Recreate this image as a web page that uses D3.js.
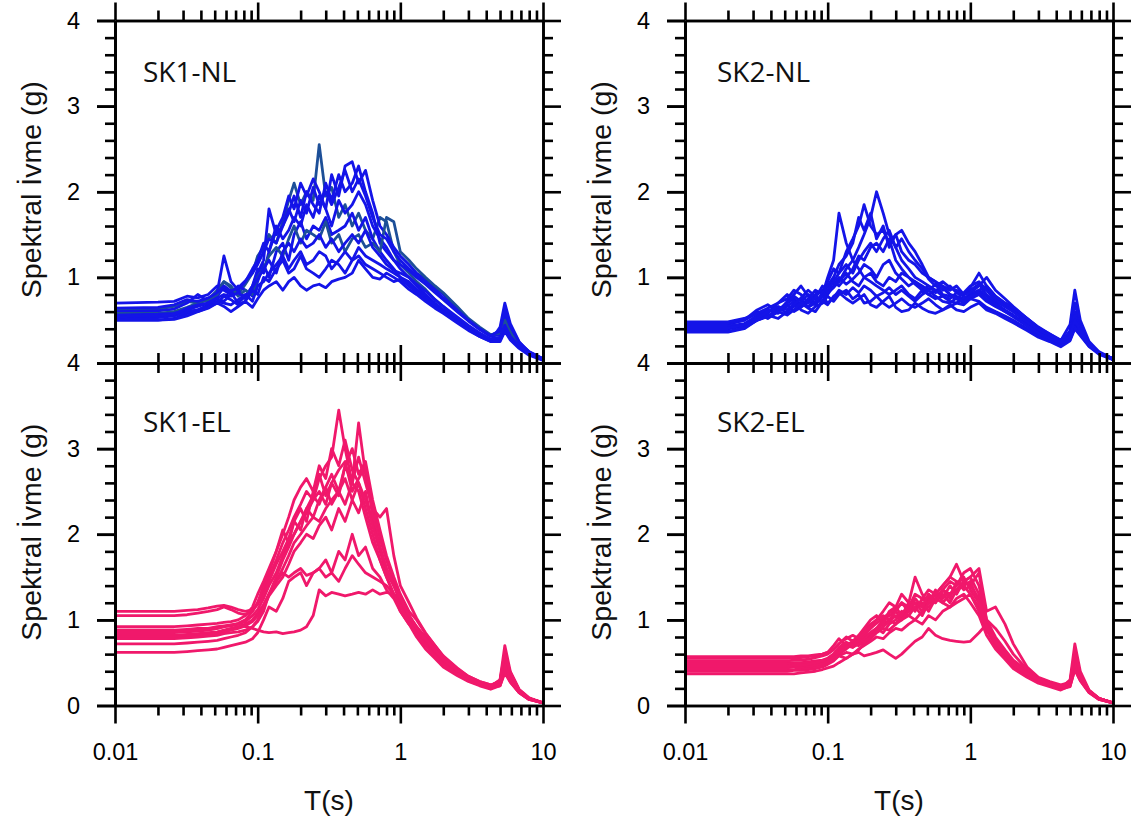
<!DOCTYPE html>
<html>
<head>
<meta charset="utf-8">
<script src="https://cdn.jsdelivr.net/npm/d3@7"></script>
<style>
  body { margin: 0; background: #fff; }
  svg { display: block; }
  .tick text { font-family: "Liberation Sans", Arial, sans-serif; fill: #000; }
  .axis path, .axis line { stroke: #000; stroke-width: 2.6; stroke-linecap: butt; }
</style>
</head>
<body>
<svg id="chart" width="1132" height="823"></svg>
<script>

/*
 * DATA  (periods T in s, spectral acceleration in g)
 */

var periods = [0.01, 0.02, 0.026, 0.032, 0.038, 0.045, 0.052, 0.058, 0.065, 0.073,
  0.082, 0.092, 0.1, 0.11, 0.12, 0.135, 0.15, 0.165, 0.18, 0.2,
  0.22, 0.245, 0.27, 0.3, 0.33, 0.37, 0.41, 0.46, 0.51, 0.57,
  0.64, 0.72, 0.8, 0.9, 1.0, 1.15, 1.3, 1.5, 1.75, 2.0,
  2.5, 3.0, 3.6, 4.3, 5.0, 5.4, 5.9, 6.8, 8.0, 10];

var sk1NL = [
  [0.62,0.63,0.66,0.72,0.70,0.74,0.85,0.95,0.88,0.80, 0.92,1.05,1.25,1.35,1.5,1.4,1.65,1.9,2.1,1.85, 2.0,1.9,2.55,1.95,2.05,1.7,1.85,1.6,1.75,1.55, 1.45,1.7,1.65,1.3,1.15, 1.05,0.95,0.86,0.74,0.66,0.52,0.42,0.34,0.27,0.3,0.45,0.32,0.2,0.11,0.04],
  [0.7,0.71,0.72,0.78,0.76,0.8,0.9,0.85,0.8,0.85, 0.95,1.1,1.2,1.4,1.3,1.55,1.7,1.95,1.8,2.1, 1.95,2.15,2.0,1.8,2.2,1.95,2.3,2.35,2.1,2.25, 1.9,1.6,1.5,1.35,1.25, 1.15,1.05,0.98,0.88,0.8,0.64,0.5,0.4,0.32,0.38,0.58,0.42,0.24,0.13,0.05],
  [0.55,0.56,0.58,0.62,0.66,0.7,0.82,1.25,0.95,0.85, 0.75,0.9,1.05,1.2,1.8,1.5,1.6,1.75,1.95,1.7, 2.0,1.85,1.75,2.1,1.9,2.2,2.0,2.1,2.3,2.0, 1.75,1.4,1.3,1.2,1.1, 1.0,0.9,0.8,0.7,0.62,0.5,0.4,0.32,0.26,0.42,0.7,0.46,0.25,0.12,0.04],
  [0.6,0.61,0.63,0.7,0.8,0.72,0.78,0.88,0.82,0.7, 0.78,0.9,1.1,1.05,1.3,1.6,1.45,1.55,1.7,1.6, 1.85,1.7,1.95,1.8,1.6,1.9,1.75,1.85,2.0,1.85, 1.6,1.45,1.35,1.2,1.15, 1.08,1.0,0.92,0.82,0.74,0.6,0.49,0.39,0.31,0.33,0.52,0.36,0.22,0.12,0.05],
  [0.5,0.5,0.52,0.58,0.62,0.68,0.75,0.72,0.8,0.9, 0.85,0.78,0.95,1.15,1.0,1.3,1.4,1.2,1.5,1.65, 1.45,1.6,1.55,1.7,1.5,1.55,1.6,1.75,1.55,1.7, 1.45,1.3,1.2,1.1,1.0, 0.95,0.86,0.78,0.68,0.6,0.49,0.4,0.32,0.26,0.28,0.46,0.33,0.2,0.11,0.04],
  [0.58,0.58,0.6,0.65,0.7,0.74,0.8,0.95,0.9,0.78, 0.85,0.8,1.0,1.1,1.25,1.35,1.25,1.45,1.6,1.4, 1.55,1.5,1.45,1.65,1.4,1.5,1.3,1.45,1.5,1.35, 1.4,1.3,1.7,1.65,1.3, 1.2,1.1,1.0,0.9,0.82,0.66,0.52,0.42,0.33,0.35,0.5,0.36,0.22,0.12,0.05],
  [0.52,0.53,0.55,0.6,0.62,0.66,0.72,0.7,0.68,0.74, 0.8,0.72,0.9,0.95,1.05,1.15,1.25,1.1,1.2,1.3, 1.15,1.2,1.3,1.25,1.1,1.2,1.3,1.2,1.35,1.25, 1.2,1.15,1.1,1.05,1.0, 0.92,0.84,0.76,0.68,0.62,0.5,0.4,0.32,0.26,0.27,0.42,0.3,0.19,0.1,0.04],
  [0.56,0.57,0.58,0.62,0.6,0.65,0.7,0.78,0.74,0.68, 0.72,0.85,0.8,1.0,0.95,1.1,1.2,1.05,1.1,1.25, 1.1,1.05,1.0,1.1,1.2,1.15,1.05,1.2,1.25,1.15, 1.1,1.05,1.0,0.95,0.98, 0.9,0.82,0.74,0.66,0.6,0.48,0.39,0.31,0.25,0.26,0.4,0.29,0.18,0.1,0.04],
  [0.5,0.5,0.51,0.55,0.6,0.64,0.7,0.66,0.6,0.66, 0.72,0.65,0.75,0.85,0.9,0.95,0.85,0.95,1.0,0.9, 0.85,0.9,0.92,0.88,0.95,0.98,1.0,1.05,1.2,1.1, 1.0,0.98,1.05,1.0,0.95, 0.86,0.8,0.72,0.64,0.58,0.47,0.38,0.31,0.25,0.25,0.37,0.27,0.17,0.09,0.03],
  [0.64,0.65,0.68,0.74,0.72,0.76,0.82,0.9,0.84,0.88, 0.96,1.05,1.15,1.3,1.45,1.4,1.6,1.8,1.65,1.9, 1.75,2.05,1.85,2.0,1.85,2.05,2.25,2.0,2.15,1.95, 1.7,1.5,1.45,1.3,1.2, 1.1,1.02,0.95,0.85,0.76,0.62,0.5,0.4,0.32,0.37,0.62,0.43,0.24,0.13,0.05],
  [0.54,0.55,0.57,0.64,0.68,0.7,0.76,0.8,0.78,0.82, 0.76,0.88,0.98,1.1,1.2,1.05,1.3,1.4,1.3,1.45, 1.35,1.4,1.5,1.35,1.45,1.3,1.4,1.5,1.4,1.55, 1.35,1.25,1.15,1.08,1.05, 1.0,0.92,0.84,0.74,0.66,0.54,0.44,0.35,0.28,0.3,0.44,0.31,0.2,0.11,0.04]
];

var sk2NL = [
  [0.45,0.45,0.5,0.6,0.55,0.62,0.7,0.75,0.68,0.72, 0.8,0.85,0.9,1.0,0.95,1.1,1.2,1.35,1.5,1.7, 2.0,1.75,1.5,1.35,1.2,1.1,1.0,0.95,0.9,0.85, 0.88,0.8,0.78,0.75,0.8,0.85,0.9, 0.78,0.7,0.65,0.52,0.42,0.34,0.26,0.45,0.85,0.5,0.25,0.13,0.05],
  [0.42,0.42,0.45,0.55,0.6,0.65,0.58,0.7,0.75,0.65, 0.7,0.8,1.0,1.2,1.75,1.4,1.2,1.1,1.0,0.95, 0.9,0.85,0.8,0.85,0.9,0.8,0.75,0.85,0.8,0.75, 0.78,0.72,0.7,0.75,0.8,0.85,0.78, 0.7,0.62,0.56,0.45,0.36,0.3,0.23,0.38,0.7,0.45,0.23,0.12,0.04],
  [0.4,0.4,0.44,0.52,0.58,0.7,0.8,0.72,0.66,0.75, 0.85,0.8,0.95,1.1,1.05,1.3,1.45,1.6,1.85,1.6, 1.5,1.55,1.4,1.5,1.3,1.2,1.15,1.05,1.0,0.95, 0.9,0.85,0.9,0.8,0.85,0.92,0.8, 0.72,0.66,0.6,0.48,0.38,0.31,0.25,0.36,0.6,0.42,0.23,0.12,0.05],
  [0.46,0.46,0.5,0.62,0.68,0.6,0.72,0.8,0.9,0.78, 0.7,0.82,0.9,1.0,1.15,1.25,1.4,1.7,1.55,1.75, 1.45,1.6,1.35,1.5,1.55,1.4,1.3,1.15,1.0,0.95, 0.85,0.9,0.82,0.78,0.75,0.8,0.88, 0.75,0.68,0.62,0.5,0.4,0.33,0.26,0.33,0.5,0.38,0.22,0.12,0.05],
  [0.36,0.36,0.4,0.5,0.55,0.62,0.68,0.6,0.65,0.72, 0.68,0.78,0.85,0.95,0.9,1.0,1.1,1.25,1.2,1.35, 1.4,1.3,1.45,1.2,1.1,1.0,0.95,0.9,0.85,0.92, 0.8,0.78,0.75,0.7,0.78,0.82,0.75, 0.68,0.6,0.54,0.43,0.34,0.28,0.22,0.3,0.45,0.36,0.21,0.11,0.04],
  [0.47,0.47,0.5,0.58,0.52,0.6,0.66,0.72,0.62,0.58, 0.66,0.7,0.78,0.72,0.8,0.85,0.75,0.8,0.7,0.72, 0.78,0.7,0.65,0.7,0.75,0.68,0.65,0.7,0.75,0.68, 0.62,0.66,0.7,0.68,0.75,0.72,0.65, 0.6,0.55,0.5,0.4,0.32,0.26,0.2,0.27,0.42,0.33,0.2,0.11,0.04],
  [0.4,0.4,0.43,0.5,0.56,0.52,0.6,0.66,0.7,0.64, 0.6,0.72,0.68,0.78,0.82,0.75,0.7,0.75,0.8,0.68, 0.65,0.72,0.78,0.65,0.6,0.62,0.7,0.64,0.6,0.58, 0.62,0.68,0.62,0.6,0.65,0.7,0.62, 0.58,0.52,0.47,0.38,0.3,0.25,0.19,0.26,0.4,0.32,0.19,0.1,0.04],
  [0.43,0.43,0.46,0.55,0.62,0.58,0.7,0.78,0.72,0.8, 0.75,0.7,0.8,0.9,1.0,0.92,0.98,1.05,1.15,1.1, 1.0,1.15,1.2,1.05,0.98,0.9,0.95,0.88,0.8,0.85, 0.78,0.75,0.82,0.8,0.88,1.05,0.9, 0.78,0.7,0.64,0.52,0.41,0.33,0.26,0.3,0.48,0.36,0.21,0.12,0.05],
  [0.41,0.41,0.44,0.52,0.6,0.66,0.62,0.68,0.76,0.85, 0.78,0.72,0.85,0.95,1.05,1.15,1.05,1.2,1.3,1.4, 1.3,1.45,1.55,1.35,1.45,1.3,1.2,1.1,0.98,0.9, 0.95,0.88,0.85,0.8,0.82,0.9,1.0, 0.85,0.75,0.66,0.52,0.41,0.34,0.27,0.35,0.55,0.4,0.23,0.12,0.05],
  [0.37,0.37,0.41,0.5,0.54,0.6,0.56,0.62,0.7,0.66, 0.72,0.78,0.7,0.76,0.85,0.8,0.88,0.82,0.9,0.85, 0.78,0.82,0.88,0.8,0.85,0.78,0.72,0.8,0.85,0.78, 0.72,0.7,0.76,0.72,0.78,0.8,0.72, 0.66,0.6,0.55,0.44,0.35,0.29,0.23,0.28,0.42,0.34,0.2,0.11,0.04],
  [0.48,0.48,0.52,0.58,0.64,0.7,0.75,0.85,0.8,0.7, 0.76,0.9,0.82,0.88,0.95,1.05,0.95,0.9,1.0,1.05, 0.95,0.9,1.0,0.95,1.05,1.0,0.92,0.85,0.9,0.82, 0.88,0.8,0.75,0.82,0.9,0.95,0.85, 0.74,0.66,0.6,0.48,0.39,0.32,0.25,0.31,0.5,0.37,0.21,0.12,0.05]
];

var sk1EL = [
  [0.88,0.88,0.88,0.89,0.9,0.9,0.92,0.93,0.94,0.96, 1.0,1.1,1.2,1.35,1.5,1.7,1.9,2.05,2.2,2.35, 2.5,2.4,2.65,2.8,2.9,3.45,3.0,2.6,2.5,2.2, 1.9,1.7,1.5,1.3, 1.1,0.95,0.85,0.72,0.6,0.5,0.38,0.3,0.25,0.21,0.26,0.5,0.32,0.17,0.08,0.03],
  [0.85,0.85,0.85,0.86,0.87,0.88,0.9,0.92,0.93,0.95, 0.98,1.05,1.12,1.25,1.4,1.55,1.75,1.9,2.0,2.15, 2.25,2.4,2.5,2.35,2.6,2.45,2.8,2.6,3.3,2.7, 2.3,1.95,1.7,1.45, 1.25,1.05,0.92,0.8,0.66,0.55,0.42,0.33,0.27,0.23,0.3,0.7,0.4,0.19,0.09,0.03],
  [1.1,1.1,1.1,1.11,1.12,1.14,1.16,1.17,1.15,1.12, 1.1,1.12,1.18,1.3,1.45,1.65,1.8,1.95,2.15,2.05, 2.3,2.45,2.35,2.55,2.7,2.5,2.8,3.0,2.7,2.85, 2.4,2.05,1.75,1.5, 1.3,1.1,1.0,0.84,0.7,0.58,0.44,0.34,0.28,0.24,0.28,0.6,0.38,0.18,0.08,0.03],
  [1.05,1.05,1.05,1.06,1.08,1.1,1.12,1.15,1.12,1.08, 1.06,1.1,1.2,1.4,1.55,1.8,2.05,1.9,2.15,2.3, 2.15,2.5,2.7,2.45,2.6,2.75,2.85,2.5,2.65,2.8, 2.2,1.85,1.6,1.4, 1.2,1.0,0.86,0.74,0.62,0.51,0.4,0.31,0.26,0.22,0.27,0.5,0.33,0.17,0.08,0.03],
  [0.82,0.82,0.82,0.83,0.84,0.85,0.86,0.88,0.9,0.92, 0.95,1.0,1.08,1.18,1.3,1.45,1.6,1.75,1.9,2.0, 2.1,2.2,2.15,2.3,2.4,2.5,2.35,2.6,2.9,2.6, 2.3,2.2,2.3,1.75, 1.4,1.2,1.02,0.85,0.7,0.57,0.43,0.34,0.28,0.24,0.28,0.55,0.35,0.18,0.08,0.03],
  [0.8,0.8,0.8,0.81,0.82,0.83,0.84,0.86,0.88,0.9, 0.93,0.98,1.05,1.15,1.28,1.4,1.5,1.65,1.8,1.9, 2.0,1.95,2.1,2.2,2.05,2.3,2.15,2.4,2.25,2.5, 2.1,1.8,1.55,1.4, 1.25,1.05,0.88,0.74,0.61,0.5,0.38,0.3,0.25,0.21,0.25,0.45,0.3,0.16,0.08,0.03],
  [0.78,0.78,0.78,0.79,0.8,0.81,0.82,0.84,0.85,0.86, 0.88,0.92,0.98,1.1,1.3,1.45,1.55,1.5,1.55,1.6, 1.52,1.55,1.6,1.5,1.55,1.45,1.6,1.75,1.65,1.55, 1.5,1.45,1.4,1.3, 1.2,1.05,0.9,0.76,0.62,0.5,0.38,0.29,0.24,0.2,0.24,0.4,0.28,0.15,0.07,0.03],
  [0.62,0.62,0.62,0.63,0.64,0.65,0.66,0.68,0.7,0.72, 0.74,0.78,0.85,1.0,1.15,1.1,1.25,1.45,1.5,1.55, 1.4,1.55,1.6,1.7,1.55,1.8,1.7,2.0,1.75,1.85, 1.6,1.5,1.35,1.25, 1.1,0.95,0.8,0.66,0.55,0.45,0.35,0.28,0.23,0.19,0.23,0.42,0.28,0.15,0.07,0.03],
  [0.86,0.86,0.86,0.87,0.88,0.89,0.9,0.92,0.94,0.95, 0.92,0.9,0.88,0.86,0.85,0.86,0.84,0.85,0.86,0.88, 0.92,1.05,1.35,1.28,1.32,1.3,1.28,1.3,1.32,1.3, 1.35,1.3,1.32,1.3, 1.25,1.05,0.92,0.78,0.64,0.52,0.4,0.31,0.25,0.21,0.23,0.38,0.27,0.15,0.07,0.03],
  [0.72,0.72,0.72,0.73,0.74,0.75,0.76,0.78,0.8,0.82, 0.85,0.92,1.0,1.15,1.3,1.5,1.7,1.85,2.0,2.15, 2.3,2.2,2.4,2.55,2.35,2.5,2.65,2.4,2.6,2.3, 2.0,1.7,1.5,1.3, 1.15,1.0,0.82,0.7,0.58,0.48,0.37,0.29,0.24,0.2,0.25,0.48,0.31,0.16,0.08,0.03],
  [0.92,0.92,0.92,0.93,0.94,0.95,0.96,0.97,0.98,1.0, 1.05,1.15,1.3,1.45,1.6,1.8,2.0,2.2,2.4,2.55, 2.65,2.5,2.8,2.65,3.0,2.8,3.1,2.75,2.6,2.4, 2.1,1.85,1.6,1.4, 1.25,1.05,0.9,0.78,0.65,0.54,0.41,0.32,0.26,0.22,0.3,0.62,0.38,0.18,0.08,0.03]
];

var sk2EL = [
  [0.5,0.5,0.5,0.5,0.5,0.5,0.5,0.5,0.5,0.51, 0.52,0.53,0.55,0.6,0.65,0.7,0.68,0.75,0.8,0.85, 0.9,1.0,1.05,1.1,1.0,1.15,1.2,1.1,1.25,1.3, 1.4,1.5,1.65,1.45, 1.5,1.3,0.95,0.75,0.6,0.49,0.39,0.31,0.26,0.22,0.27,0.6,0.34,0.17,0.08,0.03],
  [0.55,0.55,0.55,0.55,0.55,0.55,0.55,0.56,0.56,0.57, 0.58,0.6,0.62,0.7,0.78,0.7,0.75,0.8,0.88,0.95, 1.0,1.1,1.2,1.15,1.3,1.2,1.5,1.3,1.2,1.25, 1.35,1.3,1.4,1.5, 1.35,1.2,0.9,0.72,0.58,0.46,0.35,0.28,0.23,0.2,0.3,0.72,0.4,0.18,0.08,0.03],
  [0.45,0.45,0.45,0.45,0.45,0.45,0.45,0.46,0.46,0.47, 0.48,0.5,0.52,0.56,0.6,0.66,0.72,0.7,0.75,0.82, 0.9,0.95,1.0,0.95,1.05,1.1,1.2,1.15,1.3,1.2, 1.35,1.45,1.4,1.55, 1.6,1.4,1.0,0.8,0.65,0.53,0.41,0.32,0.27,0.23,0.26,0.5,0.32,0.16,0.08,0.03],
  [0.4,0.4,0.4,0.4,0.4,0.4,0.4,0.41,0.41,0.42, 0.43,0.45,0.48,0.52,0.58,0.62,0.6,0.65,0.72,0.78, 0.85,0.9,0.88,0.95,1.0,1.05,1.0,1.1,1.15,1.25, 1.2,1.3,1.35,1.45, 1.5,1.6,1.1,1.15,0.95,0.72,0.45,0.33,0.28,0.24,0.27,0.55,0.34,0.17,0.08,0.03],
  [0.37,0.37,0.37,0.37,0.37,0.37,0.37,0.37,0.38,0.39, 0.4,0.42,0.44,0.46,0.5,0.55,0.6,0.62,0.58,0.6, 0.62,0.65,0.6,0.55,0.6,0.68,0.75,0.8,0.9,0.82, 0.78,0.76,0.75,0.74, 0.75,0.85,0.95,0.78,0.6,0.47,0.36,0.28,0.23,0.19,0.22,0.42,0.29,0.15,0.07,0.03],
  [0.48,0.48,0.48,0.48,0.48,0.48,0.48,0.49,0.49,0.5, 0.51,0.52,0.54,0.58,0.65,0.72,0.68,0.72,0.78,0.85, 0.9,0.85,0.95,1.0,1.1,1.05,1.15,1.2,1.1,1.25, 1.3,1.2,1.35,1.4, 1.3,1.15,0.88,0.7,0.56,0.45,0.35,0.28,0.23,0.2,0.25,0.5,0.32,0.16,0.08,0.03],
  [0.52,0.52,0.52,0.52,0.52,0.52,0.52,0.53,0.53,0.54, 0.56,0.58,0.6,0.65,0.72,0.8,0.75,0.82,0.9,1.0, 1.05,0.95,1.1,1.15,1.05,1.2,1.1,1.25,1.2,1.35, 1.2,1.15,1.25,1.3, 1.2,1.05,0.82,0.66,0.54,0.43,0.33,0.26,0.22,0.18,0.23,0.46,0.3,0.16,0.07,0.03],
  [0.42,0.42,0.42,0.42,0.42,0.42,0.42,0.42,0.43,0.44, 0.45,0.47,0.5,0.54,0.58,0.55,0.6,0.66,0.7,0.75, 0.8,0.78,0.85,0.9,0.88,0.95,1.0,0.95,1.05,1.0, 1.1,1.15,1.2,1.25, 1.3,1.1,0.9,0.74,0.6,0.48,0.37,0.29,0.24,0.2,0.23,0.42,0.29,0.15,0.07,0.03],
  [0.44,0.44,0.44,0.44,0.44,0.44,0.44,0.45,0.45,0.46, 0.47,0.49,0.52,0.56,0.62,0.68,0.72,0.78,0.74,0.8, 0.88,0.92,0.98,1.05,1.0,1.1,1.15,1.05,1.2,1.3, 1.25,1.4,1.3,1.45, 1.4,1.55,1.0,0.9,0.75,0.6,0.42,0.32,0.27,0.22,0.26,0.52,0.33,0.17,0.08,0.03],
  [0.46,0.46,0.46,0.46,0.46,0.46,0.46,0.47,0.47,0.48, 0.5,0.52,0.55,0.6,0.68,0.74,0.7,0.76,0.82,0.9, 0.96,1.02,1.08,1.12,1.2,1.15,1.3,1.25,1.35,1.3, 1.4,1.5,1.45,1.35, 1.4,1.25,0.95,0.76,0.62,0.5,0.39,0.31,0.26,0.22,0.26,0.5,0.32,0.16,0.08,0.03],
  [0.57,0.57,0.57,0.57,0.57,0.57,0.57,0.57,0.58,0.58, 0.59,0.6,0.62,0.66,0.72,0.78,0.82,0.78,0.85,0.92, 1.0,1.05,1.0,1.1,1.2,1.1,1.25,1.15,1.3,1.2, 1.35,1.25,1.45,1.4, 1.45,1.2,0.92,0.74,0.6,0.48,0.37,0.3,0.25,0.21,0.28,0.62,0.36,0.17,0.08,0.03]
];

var panelNames = ["SK1-NL", "SK2-NL", "SK1-EL", "SK2-EL"];
var xMajor = [0.01, 0.1, 1, 10];
var xMinor = [0.02,0.03,0.04,0.05,0.06,0.07,0.08,0.09, 0.2,0.3,0.4,0.5,0.6,0.7,0.8,0.9, 2,3,4,5,6,7,8,9];
var yMajor = [0, 1, 2, 3, 4];
var yMinor = [0.2,0.4,0.6,0.8, 1.2,1.4,1.6,1.8, 2.2,2.4,2.6,2.8, 3.2,3.4,3.6,3.8];
var yTitle = "Spektral İvme (g)";
var xTitle = "T(s)";

/*
 * LAYOUT
 */

var colLeft = [115, 685];
var rowTop = [20.5, 363];
var plotW = 428, plotH = 342.5;
var majorLen = 18, minorLen = 10;

var blue = "#1414e8", blueDark = "#1d4f98";
var pink = "#f0186b";

var panels = [
  {name: panelNames[0], col: 0, row: 0, curves: sk1NL, color: blue, dark: [0, 5], titleY: 61.5},
  {name: panelNames[1], col: 1, row: 0, curves: sk2NL, color: blue, dark: [], titleY: 61.5},
  {name: panelNames[2], col: 0, row: 1, curves: sk1EL, color: pink, dark: [], titleY: 69},
  {name: panelNames[3], col: 1, row: 1, curves: sk2EL, color: pink, dark: [], titleY: 69}
];

var svg = d3.select("#chart");

var x = d3.scaleLog().domain([0.01, 10]).range([0, plotW]);
var y = d3.scaleLinear().domain([0, 4]).range([plotH, 0]);

var line = d3.line()
  .x(function (d) { return x(d[0]); })
  .y(function (d) { return y(d[1]); });

function xFmt(d) { return String(d); }

function drawAxis(g, axis, tx, ty) {
  g.append("g").attr("class", "axis")
    .attr("transform", "translate(" + tx + "," + ty + ")")
    .call(axis);
}

panels.forEach(function (p) {
  var g = svg.append("g")
    .attr("transform", "translate(" + colLeft[p.col] + "," + rowTop[p.row] + ")");

  // curves
  p.curves.forEach(function (vals, i) {
    if (vals.length !== periods.length) console.warn(p.name, i, vals.length);
    var pts = periods.map(function (t, k) { return [t, vals[k]]; })
      .filter(function (d) { return d[1] != null; });
    g.append("path")
      .attr("d", line(pts))
      .attr("fill", "none")
      .attr("stroke", p.dark.indexOf(i) >= 0 ? blueDark : p.color)
      .attr("stroke-width", 2.8)
      .attr("stroke-linejoin", "round");
  });

  // bottom
  var bottom = d3.axisBottom(x).tickValues(xMajor).tickSize(majorLen).tickSizeOuter(0).tickPadding(20)
    .tickFormat(p.row === 1 ? xFmt : "");
  drawAxis(g, bottom, 0, plotH);
  drawAxis(g, d3.axisBottom(x).tickValues(xMinor).tickSize(minorLen).tickSizeOuter(0).tickFormat(""), 0, plotH);
  // top
  drawAxis(g, d3.axisTop(x).tickValues(xMajor).tickSize(majorLen).tickSizeOuter(0).tickFormat(""), 0, 0);
  drawAxis(g, d3.axisTop(x).tickValues(xMinor).tickSize(minorLen).tickSizeOuter(0).tickFormat(""), 0, 0);
  // left
  var left = d3.axisLeft(y).tickValues(p.row === 0 ? [1, 2, 3, 4] : yMajor)
    .tickSize(majorLen).tickSizeOuter(0).tickPadding(17).tickFormat(d3.format("d"));
  drawAxis(g, left, 0, 0);
  drawAxis(g, d3.axisLeft(y).tickValues(yMajor).tickSize(majorLen).tickSizeOuter(0).tickFormat(""), 0, 0);
  drawAxis(g, d3.axisLeft(y).tickValues(yMinor).tickSize(minorLen).tickSizeOuter(0).tickFormat(""), 0, 0);
  // right
  drawAxis(g, d3.axisRight(y).tickValues(yMajor).tickSize(majorLen).tickSizeOuter(0).tickFormat(""), plotW, 0);
  drawAxis(g, d3.axisRight(y).tickValues(yMinor).tickSize(minorLen).tickSizeOuter(0).tickFormat(""), plotW, 0);

  g.selectAll(".tick text").attr("font-size", 23.5);

  // panel title
  g.append("text")
    .attr("x", p.col === 0 ? 28 : 32)
    .attr("y", p.titleY)
    .attr("font-family", "'Open Sans', sans-serif")
    .attr("font-size", 28)
    .attr("fill", "#111")
    .text(p.name);

  // y title
  g.append("text")
    .attr("transform", "translate(" + (-74) + "," + (plotH / 2 - 2) + ") rotate(-90)")
    .attr("text-anchor", "middle")
    .attr("font-family", "'Liberation Sans', Arial, sans-serif")
    .attr("font-size", 28.5)
    .attr("fill", "#111")
    .text(yTitle);

  // x title
  if (p.row === 1) {
    g.append("text")
      .attr("x", plotW / 2)
      .attr("y", plotH + 104)
      .attr("text-anchor", "middle")
      .attr("font-family", "'Liberation Sans', Arial, sans-serif")
      .attr("font-size", 28)
      .attr("fill", "#111")
      .text(xTitle);
  }
});

</script>
</body>
</html>
